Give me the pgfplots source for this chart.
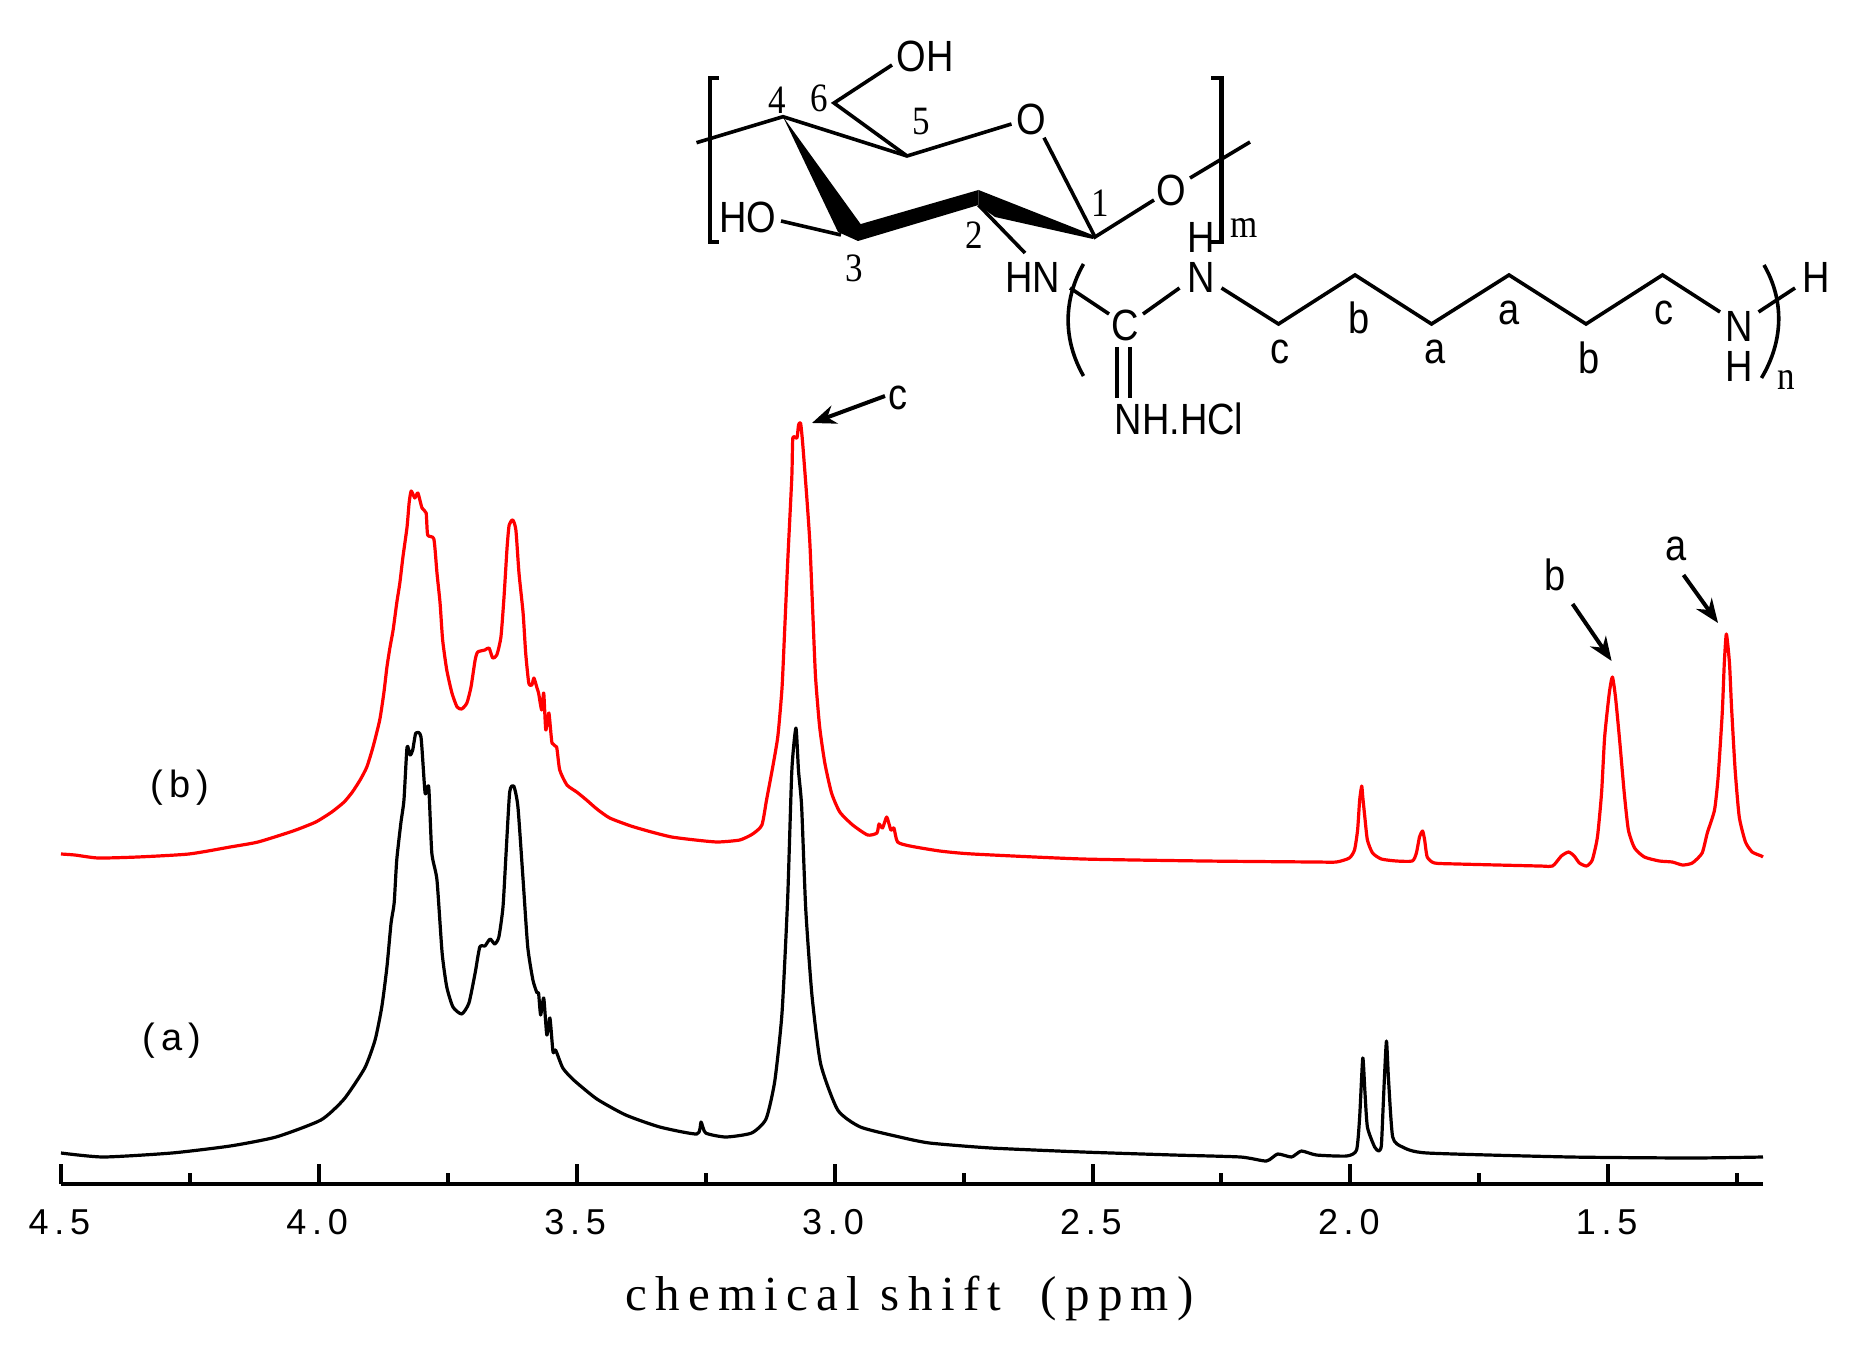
\documentclass[border=0pt]{standalone}
\usepackage{fontspec}
\usepackage{pgfplots}
\pgfplotsset{compat=1.18}
\usetikzlibrary{arrows.meta}
\setmainfont{Liberation Sans}
\newfontfamily\tickfont[LetterSpace=16]{Liberation Sans}
\newfontfamily\labfont[LetterSpace=17]{Liberation Serif}
\newfontfamily\chemserif{Liberation Serif}
\pgfplotstableread{
x y
4.500 330
4.473 329
4.428 326
4.351 327
4.252 330
4.172 337
4.118 342
4.050 353
4.006 362
3.975 372
3.951 382
3.935 392
3.920 404
3.907 417
3.895 437
3.882 464
3.874 491
3.868 517
3.862 537
3.856 554
3.849 581
3.843 601
3.837 627
3.829 657
3.825 681
3.821 693
3.814 686
3.808 691
3.800 676
3.792 671
3.789 649
3.777 645
3.771 611
3.765 581
3.760 544
3.752 514
3.742 491
3.732 477
3.723 475
3.713 481
3.705 497
3.697 524
3.692 532
3.678 534
3.670 536
3.663 526
3.655 529
3.647 547
3.641 587
3.635 637
3.631 659
3.624 664
3.618 654
3.612 611
3.604 571
3.599 531
3.593 501
3.587 499
3.583 506
3.577 496
3.574 491
3.568 474
3.564 491
3.560 454
3.554 471
3.548 441
3.539 437
3.533 414
3.519 399
3.500 392
3.481 384
3.461 375
3.436 366
3.395 358
3.355 352
3.316 347
3.270 344
3.227 342
3.184 344
3.159 350
3.141 359
3.132 384
3.120 417
3.110 448
3.102 496
3.097 552
3.091 622
3.083 707
3.081 746
3.073 746
3.070 759
3.066 761
3.062 741
3.054 687
3.048 641
3.042 567
3.037 507
3.029 457
3.019 421
3.006 391
2.990 372
2.965 359
2.936 349
2.918 351
2.914 360
2.907 356
2.899 367
2.891 354
2.885 356
2.878 342
2.854 338
2.796 333
2.732 330
2.519 325
2.283 323
2.070 322
2.027 322
2.002 326
1.992 334
1.986 354
1.982 384
1.978 398
1.976 387
1.972 367
1.967 344
1.957 331
1.940 325
1.911 323
1.880 323
1.872 331
1.866 347
1.860 353
1.856 344
1.851 327
1.837 321
1.792 320
1.634 318
1.608 318
1.591 328
1.577 332
1.566 328
1.556 321
1.542 318
1.531 324
1.521 347
1.513 391
1.507 447
1.498 491
1.492 507
1.486 487
1.478 444
1.469 391
1.461 354
1.449 336
1.430 327
1.401 323
1.376 322
1.356 319
1.337 321
1.318 331
1.308 351
1.294 374
1.287 407
1.279 471
1.275 521
1.271 550
1.265 521
1.261 477
1.254 414
1.246 367
1.234 342
1.221 332
1.203 328
1.200 327
}\tableb
\pgfplotstableread{
x y
4.500 31
4.418 27
4.285 31
4.172 38
4.083 47
3.996 64
3.951 85
3.911 116
3.891 144
3.878 177
3.868 217
3.860 261
3.854 281
3.849 324
3.841 361
3.835 384
3.829 437
3.823 429
3.818 434
3.812 451
3.802 447
3.794 391
3.787 397
3.781 331
3.771 304
3.761 231
3.752 197
3.740 177
3.723 170
3.709 181
3.697 211
3.688 237
3.678 238
3.668 245
3.659 240
3.651 247
3.643 277
3.637 331
3.630 392
3.622 398
3.614 377
3.604 304
3.595 237
3.585 204
3.577 191
3.574 191
3.570 169
3.564 186
3.558 149
3.552 166
3.546 132
3.541 134
3.527 116
3.506 104
3.461 85
3.405 69
3.339 57
3.267 50
3.259 62
3.250 51
3.211 47
3.161 51
3.133 65
3.116 103
3.102 171
3.091 286
3.083 413
3.075 456
3.070 413
3.064 378
3.056 275
3.044 189
3.027 120
2.994 74
2.950 57
2.874 47
2.816 41
2.697 36
2.519 32
2.343 29
2.213 27
2.163 23
2.141 30
2.114 27
2.095 33
2.066 29
2.007 28
1.988 34
1.982 67
1.976 126
1.972 94
1.967 57
1.953 37
1.945 33
1.940 38
1.937 71
1.934 106
1.930 143
1.926 104
1.918 47
1.899 37
1.851 31
1.574 27
1.337 26
1.200 27
}\tablea
\newcommand\st[1]{\scalebox{1}[1.15]{#1}}
\begin{document}
\begin{tikzpicture}
\useasboundingbox (0,0) rectangle (928pt,675.5pt);
\begin{axis}[
  at={(30.5pt,83.5pt)}, anchor=south west,
  scale only axis, width=851pt, height=592pt,
  xmin=1.2, xmax=4.5, ymin=0, ymax=1184,
  x dir=reverse,
  axis x line=bottom, axis y line=none,
  axis line style={-, line width=2pt, black},
  tick align=inside,
  xtick={4.5,4.0,3.5,3.0,2.5,2.0,1.5},
  xticklabels={4.5,4.0,3.5,3.0,2.5,2.0,1.5},
  minor xtick={4.25,3.75,3.25,2.75,2.25,1.75,1.25},
  major tick length=10pt, minor tick length=5.5pt,
  every tick/.style={black, line width=2pt},
  x tick label style={font=\fontsize{18}{20}\tickfont, anchor=center, yshift=-19pt, xshift=-0.8pt},
  xlabel={chemical shift\hspace{0.8em}(ppm)},
  xlabel style={font=\fontsize{24.5}{28}\labfont, at={(axis description cs:0.4985,-0.097)}, anchor=center},
  clip=false,
]
\addplot[black, line width=1.6pt, line join=round, smooth, tension=0.35] table[x=x,y=y] {\tablea};
\addplot[red, line width=1.6pt, line join=round, smooth, tension=0.35] table[x=x,y=y] {\tableb};
\end{axis}
\begin{scope}[shift={(0pt,675.5pt)}, x=0.5pt, y=-0.5pt, line width=1.8pt, line join=miter]
\def\ss{\fontsize{19}{22}\selectfont}
\def\tt{\fontsize{17.5}{20}\chemserif}
\tikzset{t/.style={font=\ss, inner sep=0pt}, n/.style={font=\tt, inner sep=0pt},
  ar/.style={-{Stealth[length=12pt,width=9.5pt]}, line width=2pt}}
% spectrum annotations
\node[font=\fontsize{19}{22}\tickfont, inner sep=0pt] at (180,788) {(b)};
\node[font=\fontsize{19}{22}\tickfont, inner sep=0pt] at (172,1041) {(a)};
\node[t] at (897.5,398) {\st{c}};
\node[t] at (1555.5,575) {\st{b}};
\node[t] at (1675.6,549) {\st{a}};
\draw[ar] (885,396) -- (812,423);
\draw[ar] (1572.6,604) -- (1611.6,661);
\draw[ar] (1683.5,575) -- (1718,623);
% brackets
\draw[line width=2.2pt] (719,78) -- (710,78) -- (710,242) -- (719,242);
\draw[line width=2.2pt] (1211,78) -- (1221.6,78) -- (1221.6,242) -- (1211,242);
% ring
\draw (696.5,142.7) -- (783,116.7) -- (907,156) -- (1011.5,124);
\draw (892,65) -- (834,103) -- (907,156);
\draw (1044,137.7) -- (1095,237) -- (1154,200);
\draw (1190,178) -- (1250,142);
\fill (783,116.7) -- (862,226) -- (858,241) -- (838,232) -- cycle;
\fill (854,226) -- (978.5,190) -- (978.5,205) -- (858,241) -- cycle;
\fill (978.5,190) -- (1095,236) -- (1093,239) -- (995,217) -- (978.5,205) -- cycle;
\draw (978.5,205) -- (1025,253);
\draw (781,221) -- (841,235);
\draw (1070,288) -- (1109,314);
\draw (1143,314) -- (1179.5,288);
\draw (1117,347) -- (1117,398);
\draw (1130,347) -- (1130,398);
\draw (1221.5,288) -- (1278.5,324) -- (1355,275) -- (1431.5,324) -- (1509,275) -- (1586,324) -- (1662.5,275) -- (1720,312);
\draw (1758.5,312) -- (1795,288);
\draw (1083.5,264) .. controls (1063,300) and (1063,340) .. (1083.5,376);
\draw (1764,265) .. controls (1784,300) and (1784,340) .. (1761.5,378);
% labels
\node[t] at (925,56) {\st{OH}};
\node[t] at (1031,119) {\st{O}};
\node[t] at (1171,190) {\st{O}};
\node[t] at (747.5,217) {\st{HO}};
\node[t] at (1032.5,277) {\st{HN}};
\node[t] at (1201,237) {\st{H}};
\node[t] at (1201,277) {\st{N}};
\node[t] at (1125,325) {\st{C}};
\node[t] at (1179,419) {\st{NH.HCl}};
\node[t] at (1739,326) {\st{N}};
\node[t] at (1739,366) {\st{H}};
\node[t] at (1816,277) {\st{H}};
\node[t] at (1280,352) {\st{c}};
\node[t] at (1359,318) {\st{b}};
\node[t] at (1435,352) {\st{a}};
\node[t] at (1509,313) {\st{a}};
\node[t] at (1589,358) {\st{b}};
\node[t] at (1664,313) {\st{c}};
\node[n] at (777.5,100) {\st{4}};
\node[n] at (819,98) {\st{6}};
\node[n] at (921.5,121.7) {\st{5}};
\node[n] at (1100,203) {\st{1}};
\node[n] at (974,235) {\st{2}};
\node[n] at (854,268) {\st{3}};
\node[n] at (1244,228) {\st{m}};
\node[n] at (1786,380) {\st{n}};
\end{scope}
\end{tikzpicture}
\end{document}
